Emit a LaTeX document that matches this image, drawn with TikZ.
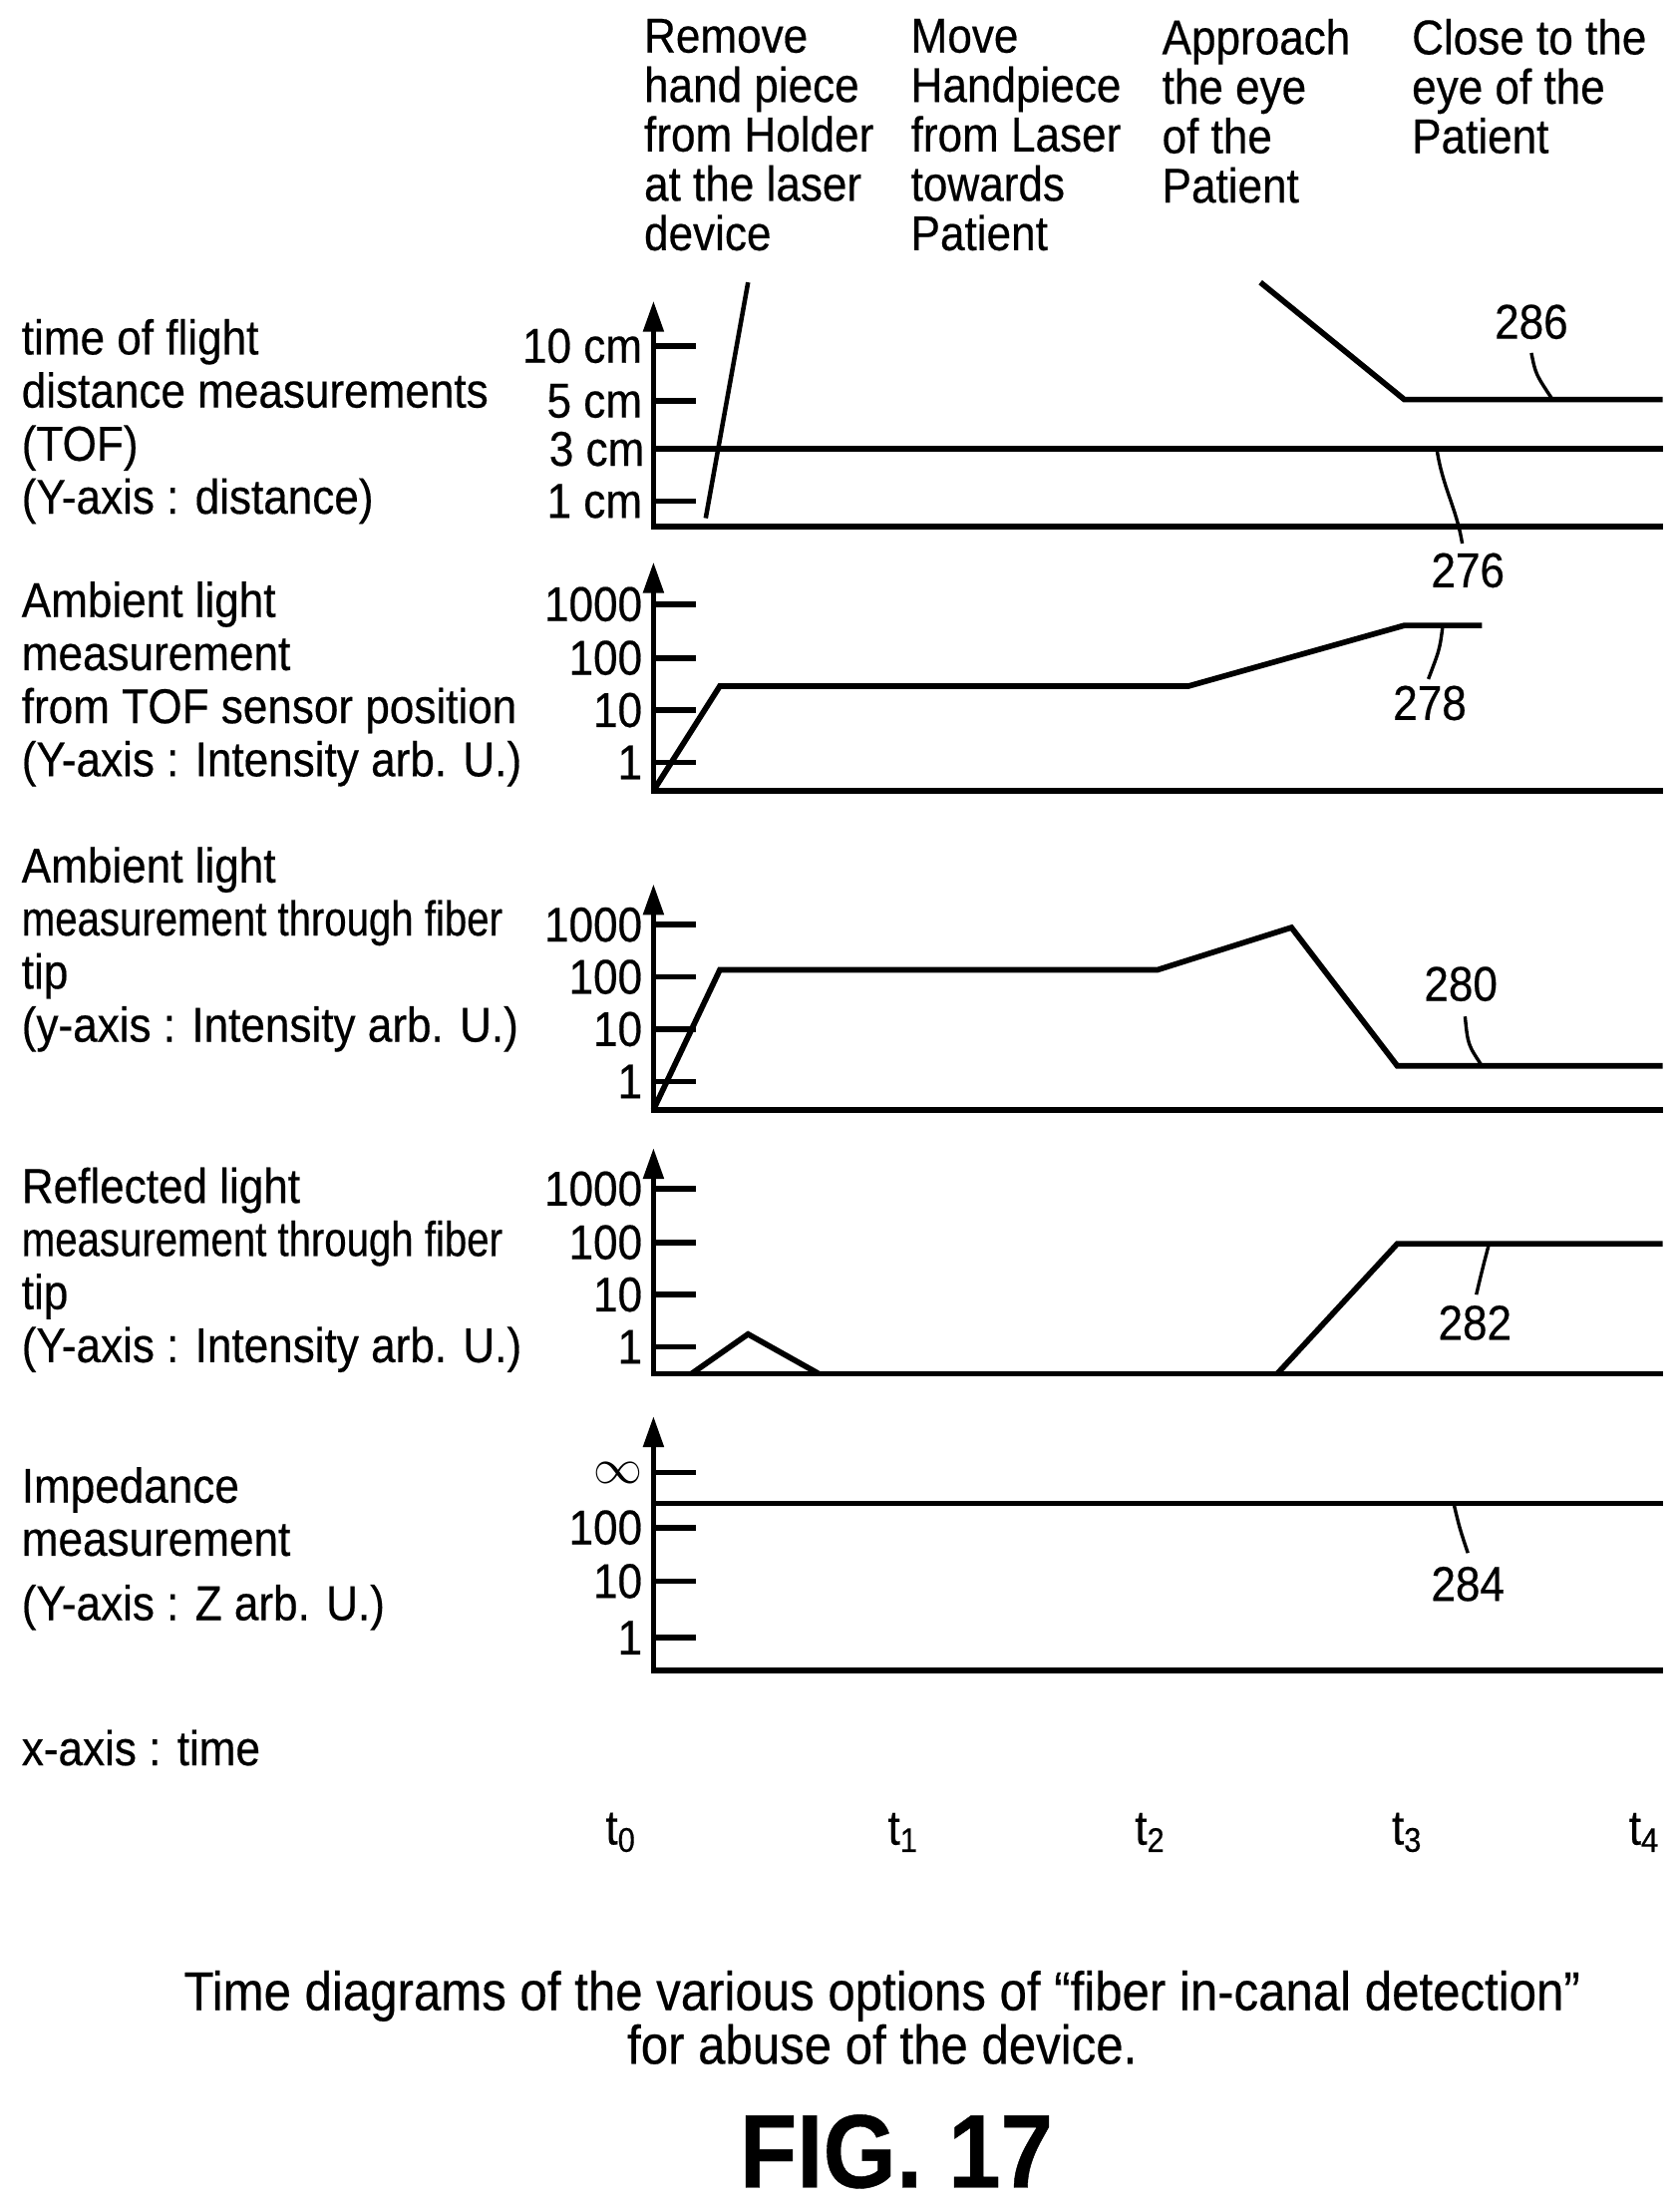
\documentclass[tikz,border=0pt]{standalone}
\usepackage{fontspec}
\setmainfont{Liberation Sans}[FakeStretch=0.9,FakeBold=0.4]
\usetikzlibrary{arrows.meta}
\tikzset{
  every node/.style={inner sep=0pt, font=\fontsize{17.3}{18.8}\selectfont},
  txt/.style={anchor=west, align=left},
  head/.style={anchor=north west, align=left, font=\fontsize{17.3}{17.5}\selectfont},
  tk/.style={anchor=east},
  ax/.style={line width=2pt, {Triangle[width=7pt,length=11pt]}-},
  crv/.style={line width=2pt, line join=miter},
  lead/.style={line width=1.2pt}
}
\begin{document}
\begin{tikzpicture}[x=0.5pt,y=-0.5pt]
\useasboundingbox (0,0) rectangle (1190,1564);
% Header
\node[head] (h1) at (456,13) {Remove\\hand piece\\from Holder\\at the laser\\device};
\node[head] (h2) at (645,13) {Move\\Handpiece\\from Laser\\towards\\Patient};
\node[head] (h3) at (823,13) {Approach\\the eye\\of the\\Patient};
\node[head] (h4) at (1000,13) {Close to the\\eye of the\\Patient};

% Panel 1 (TOF)
\node[txt] (l1) at (15,298.5) {time of flight\\distance measurements\\(TOF)\\(Y-axis : distance)};
\coordinate (o1) at (463,373);
\draw[ax] (463,213) -- (o1) -- (1178,373);
\foreach \y/\t in {245/10 cm,284/5 cm,355/1 cm}
  \draw[line width=2pt] (463,\y) -- (493,\y) node[tk] at (457,\y) {\t};
\node[tk] (c3) at (457,318) {3 cm};
\draw[crv] (463,318) -- (1178,318);
\draw[crv] (893,200) -- (995,283) -- (1178,283);
\draw[line width=1.6pt] (530,200) -- (500,367);
\node (n286) at (1085,228) {286};
\draw[lead] (1085,250) .. controls (1088,265) .. (1100,283);
\node (n276) at (1040,404) {276};
\draw[lead] (1018,318) .. controls (1022,345) and (1032,360) .. (1036,385);

% Panel 2 (ambient TOF)
\node[txt] (l2) at (15,484.5) {Ambient light\\measurement\\from TOF sensor position\\(Y-axis : Intensity arb. U.)};
\draw[ax] (463,398) -- (463,560) -- (1178,560);
\foreach \y/\t in {428/1000,466/100,503/10,540/1}
  \draw[line width=2pt] (463,\y) -- (493,\y) node[tk] at (457,\y) {\t};
\draw[crv] (463,560) -- (510,486) -- (842,486) -- (995,443) -- (1050,443);
\node (n278) at (1013,498) {278};
\draw[lead] (1022,445) .. controls (1020,460) .. (1012,481);

% Panel 3 (ambient fiber)
\node[txt] (l3) at (15,672.5) {Ambient light\\{\addfontfeatures{FakeStretch=0.82}measurement through fiber}\\tip\\(y-axis : Intensity arb. U.)};
\draw[ax] (463,626) -- (463,786) -- (1178,786);
\foreach \y/\t in {655/1000,692/100,729/10,766/1}
  \draw[line width=2pt] (463,\y) -- (493,\y) node[tk] at (457,\y) {\t};
\draw[crv] (463,786) -- (510,687) -- (820,687) -- (915,657) -- (990,755) -- (1178,755);
\node (n280) at (1035,697) {280};
\draw[lead] (1038,720) .. controls (1040,740) .. (1050,755);

% Panel 4 (reflected)
\node[txt] (l4) at (15,899.5) {Reflected light\\{\addfontfeatures{FakeStretch=0.82}measurement through fiber}\\tip\\(Y-axis : Intensity arb. U.)};
\draw[ax] (463,813) -- (463,973) -- (1178,973);
\foreach \y/\t in {842/1000,880/100,917/10,954/1}
  \draw[line width=2pt] (463,\y) -- (493,\y) node[tk] at (457,\y) {\t};
\draw[crv] (490,973) -- (530,945) -- (580,973);
\draw[crv] (905,973) -- (990,881) -- (1178,881);
\node (n282) at (1045,937) {282};
\draw[lead] (1055,881) .. controls (1050,900) .. (1046,917);

% Panel 5 (impedance)
\node[txt] (l5) at (15,1097) {Impedance\\measurement\\[4pt](Y-axis : Z arb. U.)};
\draw[ax] (463,1003) -- (463,1183) -- (1178,1183);
\foreach \y/\t in {1043/$\infty$,1082/100,1120/10,1160/1}
  \draw[line width=2pt] (463,\y) -- (493,\y) node[tk] at (457,\y) {\t};
\draw[crv] (463,1065) -- (1178,1065);
\node (n284) at (1040,1122) {284};
\draw[lead] (1030,1065) .. controls (1034,1082) .. (1040,1100);

% Time axis
\node[txt] (xl) at (15,1238) {x-axis : time};
\foreach \x/\i in {440/0,640/1,815/2,997/3,1165/4}
  \node (t\i) at (\x,1298) {t\textsubscript{\i}};

% Caption
\node[align=center, font=\fontsize{19.3}{17.5}\selectfont] (cap) at (625,1429) {Time diagrams of the various options of “fiber in-canal detection”\\for abuse of the device.};
\node[font=\fontsize{37}{40}\selectfont\bfseries] (fig) at (635,1524) {FIG. 17};
\end{tikzpicture}
\end{document}
